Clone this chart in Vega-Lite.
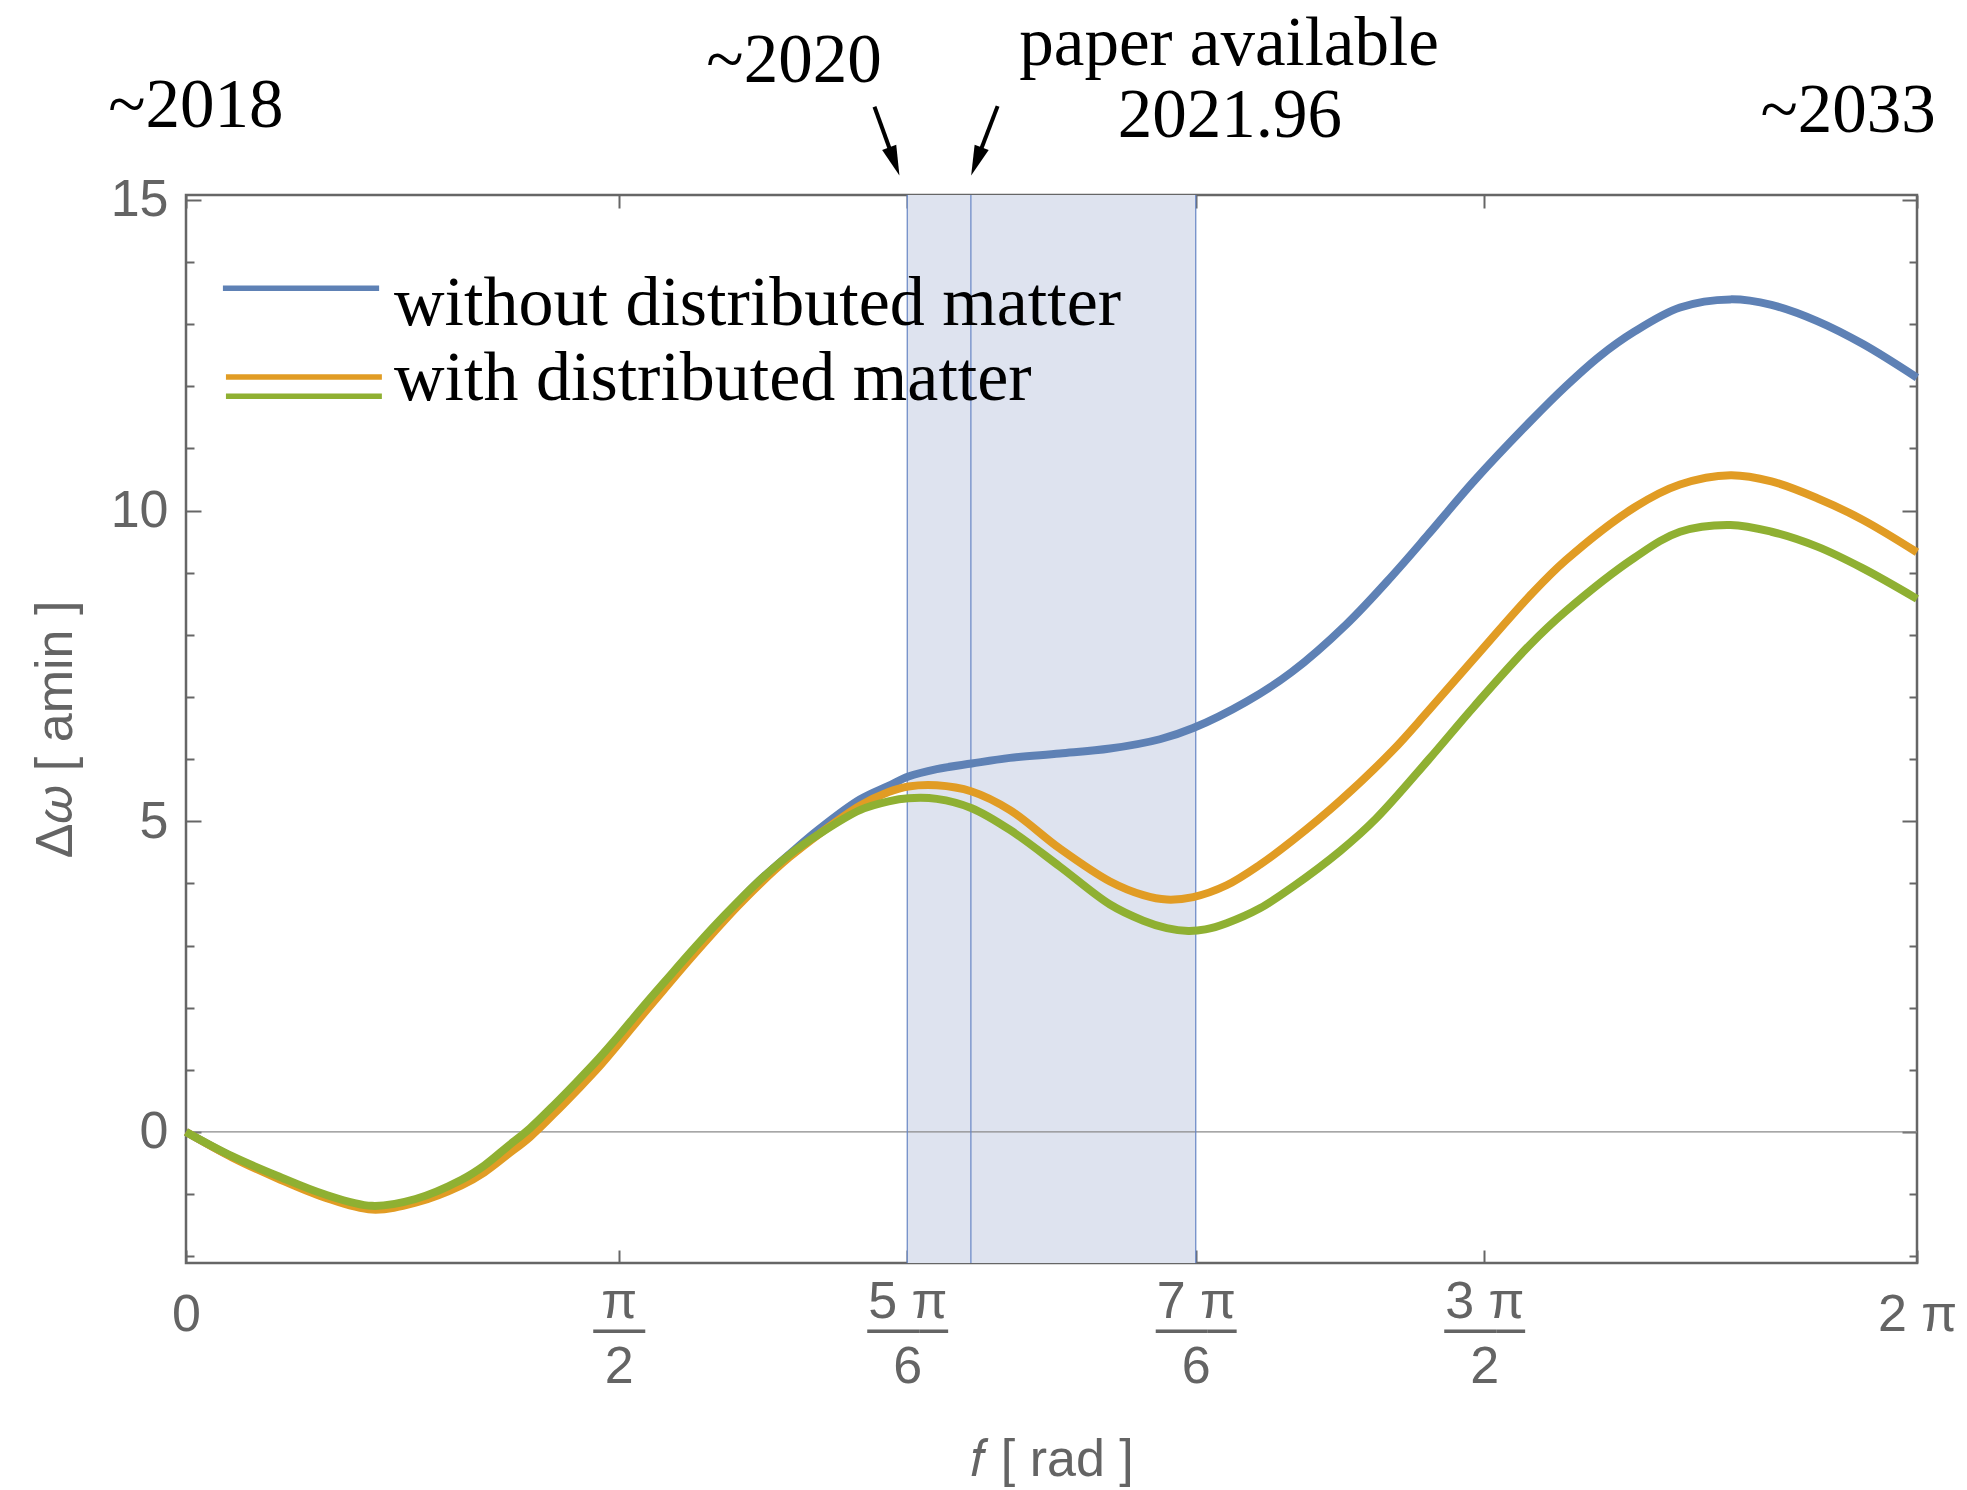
{
  "$schema": "https://vega.github.io/schema/vega-lite/v6.json",
  "width": 1731,
  "height": 1068,
  "autosize": {"type": "none"},
  "padding": {"left": 186, "top": 195, "right": 50, "bottom": 227},
  "background": "white",
  "config": {
    "view": {"stroke": "#666666", "strokeWidth": 2.5},
    "axis": {
      "domain": false, "grid": false, "tickColor": "#666666", "tickWidth": 2,
      "labelFont": "Liberation Sans", "labelFontSize": 52, "labelColor": "#646464",
      "titleFont": "Liberation Sans", "titleFontSize": 52, "titleColor": "#646464",
      "titleFontWeight": "normal", "labelOverlap": false, "labelFlush": false
    }
  },
  "resolve": {"axis": {"x": "independent", "y": "independent"}},
  "layer": [
    {
      "data": {"values": [{"a": 2.6179938779914944, "b": 3.665191429188092}]},
      "mark": {"type": "rect", "fill": "#dee3ef"},
      "encoding": {
        "x": {"field": "a", "type": "quantitative",
          "scale": {"domain": [0, 6.283185307179586], "nice": false, "zero": false},
          "axis": {"orient": "bottom",
            "values": [0, 1.5707963267948966, 2.6179938779914944, 2.849, 3.141592653589793, 3.665191429188092, 4.71238898038469, 6.283185307179586],
            "tickSize": -13, "labelPadding": 51, "labelBaseline": "middle", "labelLineHeight": 13,
            "labelExpr": "abs(datum.value) < 0.001 ? ['\u200b', '0'] : abs(datum.value - PI/2) < 0.001 ? ['π', '\u200b', '—', '\u200b', '\u200b', '2'] : abs(datum.value - 5*PI/6) < 0.001 ? ['5 π', '\u200b', '—–', '\u200b', '\u200b', '6'] : abs(datum.value - 7*PI/6) < 0.001 ? ['7 π', '\u200b', '—–', '\u200b', '\u200b', '6'] : abs(datum.value - 3*PI/2) < 0.001 ? ['3 π', '\u200b', '—–', '\u200b', '\u200b', '2'] : abs(datum.value - 2*PI) < 0.001 ? ['\u200b', '2 π'] : ''",
            "title": "𝑓 [ rad ]", "titlePadding": 42}},
        "x2": {"field": "b"}
      }
    },
    {
      "data": {"values": [{"z": 0}]},
      "mark": {"type": "rule", "color": "#8a8a8a", "strokeWidth": 1.3},
      "encoding": {
        "y": {"field": "z", "type": "quantitative",
          "scale": {"domain": [-2.11, 15.08], "nice": false, "zero": false},
          "axis": {"orient": "left", "values": [0, 5, 10, 15], "tickSize": -15, "labelPadding": 33,
            "labelAlign": "right", "labelBaseline": "middle", "title": "Δ𝜔 [ amin ]", "titlePadding": 28}}
      }
    },
    {
      "data": {"values": [{"v": 2.6179938779914944}, {"v": 2.849}, {"v": 3.665191429188092}]},
      "mark": {"type": "rule", "color": "#6685c4", "strokeWidth": 1.2},
      "encoding": {
        "x": {"field": "v", "type": "quantitative",
          "scale": {"domain": [0, 6.283185307179586], "nice": false, "zero": false},
          "axis": {"orient": "top",
            "values": [0, 1.5707963267948966, 2.6179938779914944, 2.849, 3.141592653589793, 3.665191429188092, 4.71238898038469, 6.283185307179586],
            "tickSize": -13, "labels": false, "title": null}}
      }
    },
    {
      "data": {"values": [
        {"s": "a", "f": 0, "d": 0}, {"s": "a", "f": 0.167, "d": -0.40}, {"s": "a", "f": 0.333, "d": -0.73},
        {"s": "a", "f": 0.5, "d": -1.02}, {"s": "a", "f": 0.675, "d": -1.22}, {"s": "a", "f": 0.833, "d": -1.11},
        {"s": "a", "f": 1.0, "d": -0.81}, {"s": "a", "f": 1.083, "d": -0.60}, {"s": "a", "f": 1.166, "d": -0.31},
        {"s": "a", "f": 1.249, "d": -0.01}, {"s": "a", "f": 1.333, "d": 0.35}, {"s": "a", "f": 1.417, "d": 0.73},
        {"s": "a", "f": 1.5, "d": 1.12}, {"s": "a", "f": 1.571, "d": 1.49}, {"s": "a", "f": 1.66, "d": 1.96},
        {"s": "a", "f": 1.75, "d": 2.43}, {"s": "a", "f": 1.833, "d": 2.86}, {"s": "a", "f": 1.917, "d": 3.28},
        {"s": "a", "f": 2.0, "d": 3.68}, {"s": "a", "f": 2.083, "d": 4.05}, {"s": "a", "f": 2.19, "d": 4.47},
        {"s": "a", "f": 2.3, "d": 4.88}, {"s": "a", "f": 2.446, "d": 5.35}, {"s": "a", "f": 2.55, "d": 5.57},
        {"s": "a", "f": 2.622, "d": 5.72}, {"s": "a", "f": 2.725, "d": 5.84}, {"s": "a", "f": 2.852, "d": 5.93},
        {"s": "a", "f": 2.991, "d": 6.02}, {"s": "a", "f": 3.172, "d": 6.09}, {"s": "a", "f": 3.354, "d": 6.17},
        {"s": "a", "f": 3.535, "d": 6.32}, {"s": "a", "f": 3.656, "d": 6.50}, {"s": "a", "f": 3.847, "d": 6.92},
        {"s": "a", "f": 4.013, "d": 7.40}, {"s": "a", "f": 4.212, "d": 8.17}, {"s": "a", "f": 4.378, "d": 8.95},
        {"s": "a", "f": 4.51, "d": 9.62}, {"s": "a", "f": 4.676, "d": 10.48}, {"s": "a", "f": 4.876, "d": 11.42},
        {"s": "a", "f": 5.008, "d": 12.0}, {"s": "a", "f": 5.13, "d": 12.48}, {"s": "a", "f": 5.257, "d": 12.88},
        {"s": "a", "f": 5.423, "d": 13.27}, {"s": "a", "f": 5.606, "d": 13.40}, {"s": "a", "f": 5.755, "d": 13.31},
        {"s": "a", "f": 5.921, "d": 13.05}, {"s": "a", "f": 6.087, "d": 12.68}, {"s": "a", "f": 6.283, "d": 12.14},
        {"s": "b", "f": 0, "d": 0}, {"s": "b", "f": 0.167, "d": -0.41}, {"s": "b", "f": 0.333, "d": -0.75},
        {"s": "b", "f": 0.5, "d": -1.05}, {"s": "b", "f": 0.675, "d": -1.25}, {"s": "b", "f": 0.833, "d": -1.14},
        {"s": "b", "f": 1.0, "d": -0.86}, {"s": "b", "f": 1.083, "d": -0.65}, {"s": "b", "f": 1.166, "d": -0.37},
        {"s": "b", "f": 1.249, "d": -0.08}, {"s": "b", "f": 1.333, "d": 0.28}, {"s": "b", "f": 1.417, "d": 0.66},
        {"s": "b", "f": 1.5, "d": 1.05}, {"s": "b", "f": 1.571, "d": 1.42}, {"s": "b", "f": 1.66, "d": 1.90},
        {"s": "b", "f": 1.75, "d": 2.37}, {"s": "b", "f": 1.833, "d": 2.80}, {"s": "b", "f": 1.917, "d": 3.22},
        {"s": "b", "f": 2.0, "d": 3.62}, {"s": "b", "f": 2.083, "d": 3.99}, {"s": "b", "f": 2.19, "d": 4.42},
        {"s": "b", "f": 2.3, "d": 4.80}, {"s": "b", "f": 2.446, "d": 5.25}, {"s": "b", "f": 2.55, "d": 5.47},
        {"s": "b", "f": 2.622, "d": 5.56}, {"s": "b", "f": 2.725, "d": 5.58}, {"s": "b", "f": 2.852, "d": 5.48},
        {"s": "b", "f": 2.991, "d": 5.18}, {"s": "b", "f": 3.172, "d": 4.56}, {"s": "b", "f": 3.354, "d": 4.03},
        {"s": "b", "f": 3.475, "d": 3.81}, {"s": "b", "f": 3.56, "d": 3.74}, {"s": "b", "f": 3.656, "d": 3.78},
        {"s": "b", "f": 3.777, "d": 3.97}, {"s": "b", "f": 3.898, "d": 4.30}, {"s": "b", "f": 4.019, "d": 4.70},
        {"s": "b", "f": 4.189, "d": 5.33}, {"s": "b", "f": 4.378, "d": 6.13}, {"s": "b", "f": 4.51, "d": 6.78},
        {"s": "b", "f": 4.676, "d": 7.62}, {"s": "b", "f": 4.876, "d": 8.62}, {"s": "b", "f": 5.008, "d": 9.20},
        {"s": "b", "f": 5.257, "d": 10.05}, {"s": "b", "f": 5.423, "d": 10.42}, {"s": "b", "f": 5.606, "d": 10.57},
        {"s": "b", "f": 5.755, "d": 10.47}, {"s": "b", "f": 5.921, "d": 10.20}, {"s": "b", "f": 6.087, "d": 9.85},
        {"s": "b", "f": 6.283, "d": 9.33},
        {"s": "c", "f": 0, "d": 0}, {"s": "c", "f": 0.167, "d": -0.39}, {"s": "c", "f": 0.333, "d": -0.71},
        {"s": "c", "f": 0.5, "d": -1.00}, {"s": "c", "f": 0.675, "d": -1.19}, {"s": "c", "f": 0.833, "d": -1.08},
        {"s": "c", "f": 1.0, "d": -0.77}, {"s": "c", "f": 1.083, "d": -0.54}, {"s": "c", "f": 1.166, "d": -0.24},
        {"s": "c", "f": 1.249, "d": 0.06}, {"s": "c", "f": 1.333, "d": 0.42}, {"s": "c", "f": 1.417, "d": 0.80},
        {"s": "c", "f": 1.5, "d": 1.19}, {"s": "c", "f": 1.571, "d": 1.55}, {"s": "c", "f": 1.66, "d": 2.02},
        {"s": "c", "f": 1.75, "d": 2.48}, {"s": "c", "f": 1.833, "d": 2.90}, {"s": "c", "f": 1.917, "d": 3.31},
        {"s": "c", "f": 2.0, "d": 3.69}, {"s": "c", "f": 2.083, "d": 4.05}, {"s": "c", "f": 2.19, "d": 4.46},
        {"s": "c", "f": 2.3, "d": 4.80}, {"s": "c", "f": 2.446, "d": 5.18}, {"s": "c", "f": 2.55, "d": 5.32},
        {"s": "c", "f": 2.622, "d": 5.37}, {"s": "c", "f": 2.725, "d": 5.36}, {"s": "c", "f": 2.852, "d": 5.21},
        {"s": "c", "f": 2.991, "d": 4.86}, {"s": "c", "f": 3.172, "d": 4.27}, {"s": "c", "f": 3.354, "d": 3.66},
        {"s": "c", "f": 3.475, "d": 3.40}, {"s": "c", "f": 3.56, "d": 3.28}, {"s": "c", "f": 3.638, "d": 3.235},
        {"s": "c", "f": 3.70, "d": 3.26}, {"s": "c", "f": 3.777, "d": 3.36}, {"s": "c", "f": 3.898, "d": 3.60},
        {"s": "c", "f": 4.019, "d": 3.95}, {"s": "c", "f": 4.189, "d": 4.52}, {"s": "c", "f": 4.319, "d": 5.04},
        {"s": "c", "f": 4.51, "d": 5.99}, {"s": "c", "f": 4.676, "d": 6.85}, {"s": "c", "f": 4.876, "d": 7.83},
        {"s": "c", "f": 5.008, "d": 8.38}, {"s": "c", "f": 5.257, "d": 9.24}, {"s": "c", "f": 5.423, "d": 9.66},
        {"s": "c", "f": 5.606, "d": 9.77}, {"s": "c", "f": 5.755, "d": 9.66}, {"s": "c", "f": 5.921, "d": 9.42},
        {"s": "c", "f": 6.087, "d": 9.07}, {"s": "c", "f": 6.283, "d": 8.58}
      ]},
      "mark": {"type": "line", "strokeWidth": 8, "interpolate": "catmull-rom", "strokeCap": "butt"},
      "encoding": {
        "x": {"field": "f", "type": "quantitative",
          "scale": {"domain": [0, 6.283185307179586], "nice": false, "zero": false}, "axis": null},
        "y": {"field": "d", "type": "quantitative",
          "scale": {"domain": [-2.11, 15.08], "nice": false, "zero": false},
          "axis": {"orient": "left", "values": [-2, -1, 1, 2, 3, 4, 6, 7, 8, 9, 11, 12, 13, 14], "tickSize": -8, "labels": false, "title": null}},
        "color": {"field": "s", "type": "nominal",
          "scale": {"domain": ["a", "b", "c"], "range": ["#5e81b5", "#e19c24", "#8fb032"]}, "legend": null}
      }
    },
    {
      "data": {"values": [
        {"s": "a", "x1": 0.134, "x2": 0.701, "y": 13.58},
        {"s": "b", "x1": 0.145, "x2": 0.711, "y": 12.15},
        {"s": "c", "x1": 0.145, "x2": 0.711, "y": 11.84}
      ]},
      "mark": {"type": "rule", "strokeWidth": 5.5},
      "encoding": {
        "x": {"field": "x1", "type": "quantitative",
          "scale": {"domain": [0, 6.283185307179586], "nice": false, "zero": false}, "axis": null},
        "x2": {"field": "x2"},
        "y": {"field": "y", "type": "quantitative",
          "scale": {"domain": [-2.11, 15.08], "nice": false, "zero": false},
          "axis": {"orient": "right", "values": [-2, -1, 1, 2, 3, 4, 6, 7, 8, 9, 11, 12, 13, 14], "tickSize": -8, "labels": false, "title": null}},
        "color": {"field": "s", "type": "nominal",
          "scale": {"domain": ["a", "b", "c"], "range": ["#5e81b5", "#e19c24", "#8fb032"]}, "legend": null}
      }
    },
    {
      "data": {"values": [
        {"t": "without distributed matter", "f": 0.755, "y": 12.99},
        {"t": "with distributed matter", "f": 0.755, "y": 11.78}
      ]},
      "mark": {"type": "text", "align": "left", "baseline": "alphabetic", "font": "Liberation Serif", "fontSize": 70, "color": "black"},
      "encoding": {
        "x": {"field": "f", "type": "quantitative",
          "scale": {"domain": [0, 6.283185307179586], "nice": false, "zero": false}, "axis": null},
        "y": {"field": "y", "type": "quantitative",
          "scale": {"domain": [-2.11, 15.08], "nice": false, "zero": false},
          "axis": {"orient": "right", "values": [0, 5, 10, 15], "tickSize": -15, "labels": false, "title": null}},
        "text": {"field": "t"}
      }
    },
    {
      "data": {"values": [
        {"t": "~2018", "f": 0.036, "y": 16.18},
        {"t": "~2020", "f": 2.207, "y": 16.90},
        {"t": "paper available", "f": 3.786, "y": 17.18},
        {"t": "2021.96", "f": 3.789, "y": 16.02},
        {"t": "~2033", "f": 6.033, "y": 16.10}
      ]},
      "mark": {"type": "text", "align": "center", "baseline": "alphabetic", "font": "Liberation Serif", "fontSize": 69, "color": "black"},
      "encoding": {
        "x": {"field": "f", "type": "quantitative",
          "scale": {"domain": [0, 6.283185307179586], "nice": false, "zero": false}, "axis": null},
        "y": {"field": "y", "type": "quantitative",
          "scale": {"domain": [-2.11, 15.08], "nice": false, "zero": false}, "axis": null},
        "text": {"field": "t"}
      }
    },
    {
      "data": {"values": [
        {"x1": 2.499, "y1": 16.50, "x2": 2.571, "y2": 15.62},
        {"x1": 2.946, "y1": 16.51, "x2": 2.869, "y2": 15.62}
      ]},
      "mark": {"type": "rule", "strokeWidth": 4, "color": "black"},
      "encoding": {
        "x": {"field": "x1", "type": "quantitative",
          "scale": {"domain": [0, 6.283185307179586], "nice": false, "zero": false}, "axis": null},
        "y": {"field": "y1", "type": "quantitative",
          "scale": {"domain": [-2.11, 15.08], "nice": false, "zero": false}, "axis": null},
        "x2": {"field": "x2"},
        "y2": {"field": "y2"}
      }
    },
    {
      "data": {"values": [
        {"x": 2.571, "y": 15.62, "a": -20},
        {"x": 2.869, "y": 15.62, "a": 20.5}
      ]},
      "mark": {"type": "point", "shape": "M-0.5,-1L0.5,-1L0,1Z", "size": 900, "filled": true, "color": "black", "opacity": 1, "strokeWidth": 0},
      "encoding": {
        "x": {"field": "x", "type": "quantitative",
          "scale": {"domain": [0, 6.283185307179586], "nice": false, "zero": false}, "axis": null},
        "y": {"field": "y", "type": "quantitative",
          "scale": {"domain": [-2.11, 15.08], "nice": false, "zero": false}, "axis": null},
        "angle": {"field": "a", "type": "quantitative", "scale": null}
      }
    }
  ]
}
